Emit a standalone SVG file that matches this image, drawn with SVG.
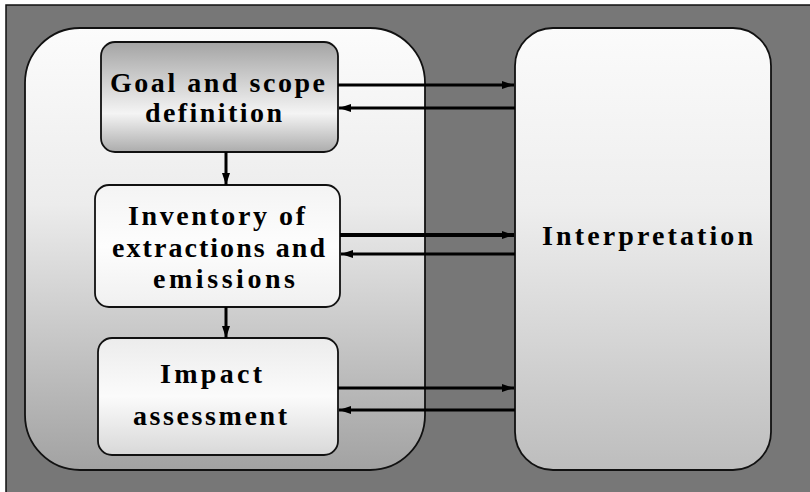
<svg xmlns="http://www.w3.org/2000/svg" width="810" height="492" viewBox="0 0 810 492">
<defs>
<linearGradient id="gBig" x1="0" y1="0" x2="0" y2="1">
<stop offset="0" stop-color="#fcfcfc"/><stop offset="0.4" stop-color="#ececec"/><stop offset="1" stop-color="#a2a2a2"/>
</linearGradient>
<linearGradient id="gInt" x1="0" y1="0" x2="0" y2="1">
<stop offset="0" stop-color="#fbfbfb"/><stop offset="0.4" stop-color="#eeeeee"/><stop offset="1" stop-color="#bdbdbd"/>
</linearGradient>
<linearGradient id="gGoal" x1="0" y1="0" x2="0" y2="1">
<stop offset="0" stop-color="#a4a4a4"/><stop offset="0.65" stop-color="#f4f4f4"/><stop offset="1" stop-color="#acacac"/>
</linearGradient>
<linearGradient id="gInv" x1="0" y1="0" x2="0" y2="1">
<stop offset="0" stop-color="#f4f4f4"/><stop offset="0.5" stop-color="#fdfdfd"/><stop offset="1" stop-color="#f0f0f0"/>
</linearGradient>
<linearGradient id="gImp" x1="0" y1="0" x2="0" y2="1">
<stop offset="0" stop-color="#ececec"/><stop offset="0.5" stop-color="#fbfbfb"/><stop offset="1" stop-color="#d8d8d8"/>
</linearGradient>
<marker id="ah" viewBox="0 0 12 10" refX="12" refY="5" markerWidth="12" markerHeight="10" markerUnits="userSpaceOnUse" orient="auto">
<path d="M0,1 L12,5 L0,9 Z" fill="#000"/>
</marker>
</defs>
<style>
.box{stroke:#111;stroke-width:1.8}
.t{font-family:"Liberation Serif","Times New Roman",serif;font-weight:bold;font-size:28px;fill:#000}
.c{stroke:#000;fill:none}
</style>
<rect x="0" y="0" width="810" height="492" fill="#fff"/>
<rect x="6" y="5" width="810" height="492" fill="#777777" stroke="#111" stroke-width="1.5"/>
<g id="lca-frame"><rect class="box" x="25" y="28" width="400" height="442" rx="55" fill="url(#gBig)"/></g>
<g id="interpretation">
<rect class="box" x="515" y="28" width="256" height="442" rx="38" fill="url(#gInt)"/>
<text class="t" x="542" y="245" textLength="211" lengthAdjust="spacing">Interpretation</text>
</g>
<g id="goal">
<rect class="box" x="101" y="42" width="237" height="110" rx="14" fill="url(#gGoal)"/>
<text class="t" x="110" y="92" textLength="215" lengthAdjust="spacing">Goal and scope</text>
<text class="t" x="145" y="122" textLength="137" lengthAdjust="spacing">definition</text>
</g>
<g id="inventory">
<rect class="box" x="95" y="185" width="245" height="122" rx="14" fill="url(#gInv)"/>
<text class="t" x="128" y="225" textLength="177" lengthAdjust="spacing">Inventory of</text>
<text class="t" x="112" y="257" textLength="213" lengthAdjust="spacing">extractions and</text>
<text class="t" x="153" y="288" textLength="142" lengthAdjust="spacing">emissions</text>
</g>
<g id="impact">
<rect class="box" x="98" y="338" width="240" height="117" rx="14" fill="url(#gImp)"/>
<text class="t" x="160" y="383" textLength="102" lengthAdjust="spacing">Impact</text>
<text class="t" x="133" y="425" textLength="154" lengthAdjust="spacing">assessment</text>
</g>
<g id="connectors">
<line class="c" x1="338" y1="85" x2="514" y2="85" stroke-width="3" marker-end="url(#ah)"/>
<line class="c" x1="515" y1="108" x2="339" y2="108" stroke-width="3" marker-end="url(#ah)"/>
<line class="c" x1="340" y1="235" x2="514" y2="235" stroke-width="4" marker-end="url(#ah)"/>
<line class="c" x1="515" y1="254" x2="341" y2="254" stroke-width="3" marker-end="url(#ah)"/>
<line class="c" x1="338" y1="388" x2="514" y2="388" stroke-width="3" marker-end="url(#ah)"/>
<line class="c" x1="515" y1="410" x2="339" y2="410" stroke-width="3" marker-end="url(#ah)"/>
<line class="c" x1="226" y1="152" x2="226" y2="185" stroke-width="3" marker-end="url(#ah)"/>
<line class="c" x1="226" y1="307" x2="226" y2="338" stroke-width="3" marker-end="url(#ah)"/>
</g>
</svg>
